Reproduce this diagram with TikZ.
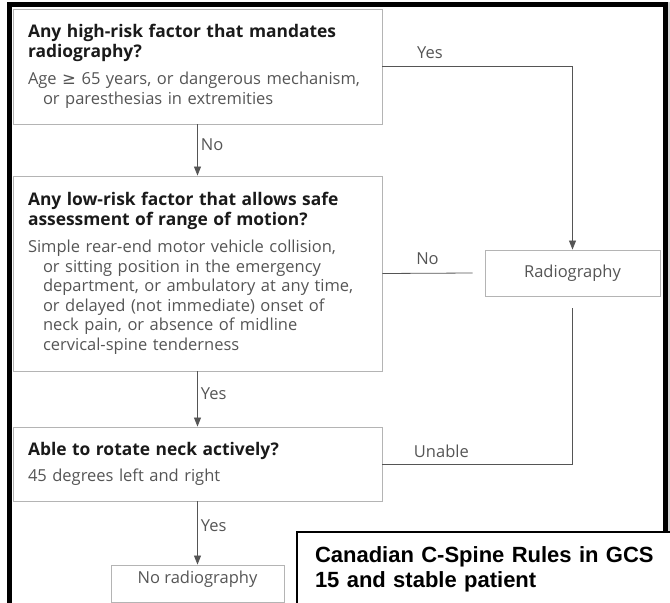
\documentclass[tikz,border=0pt]{standalone}
\usepackage{fontspec}
\setmainfont{Open Sans}
\newfontfamily\symfont{DejaVu Sans}
\newfontfamily\capfont{Liberation Sans}
\usepackage{xcolor}
\usetikzlibrary{arrows.meta,positioning,calc}

\definecolor{boxgray}{HTML}{B4B4B4}
\definecolor{linegray}{HTML}{555555}
\definecolor{txtgray}{HTML}{555555}
\definecolor{headgray}{HTML}{1A1A1A}

\newcommand{\ind}{\hspace*{15pt}}
\newcommand{\qhead}{\color{headgray}\bfseries\fontsize{17.4}{20}\selectfont}

\begin{document}
\begin{tikzpicture}[x=1pt, y=-1pt,
	every node/.style={font=\fontsize{16.5}{19.5}\selectfont, text=txtgray},
	qbox/.style={rectangle, draw=boxgray, line width=0.9pt, minimum width=369pt, text width=339pt, inner xsep=15pt, align=left},
	rbox/.style={rectangle, draw=boxgray, line width=0.9pt, align=center},
	lbl/.style={inner sep=3pt},
	ln/.style={draw=linegray, line width=0.8pt},
	arr/.style={ln, -{Triangle[width=7pt,length=9pt]}}]
				\useasboundingbox (0,0) rectangle (670,603);
				\clip (0,0) rectangle (670,603);
				
				% outer frame
				\fill[gray!35] (667.5,2) rectangle (670,603);
				\draw[line width=5pt] (9.5,620) -- (9.5,4.5) -- (665,4.5) -- (665,620);
				
				\node[qbox, minimum height=115pt] (q1) at (197.5,66.5) {{\qhead Any high-risk factor that mandates\\radiography?}\\[8pt]
					Age {\symfont ≥} 65 years, or dangerous mechanism,\\
					\ind or paresthesias in extremities};
				\node[qbox, minimum height=195pt] (q2) at (197.5,273.5) {{\qhead Any low-risk factor that allows safe\\assessment of range of motion?}\\[8pt]
					Simple rear-end motor vehicle collision,\\
					\ind or sitting position in the emergency\\
					\ind department, or ambulatory at any time,\\
					\ind or delayed (not immediate) onset of\\
					\ind neck pain, or absence of midline\\
					\ind cervical-spine tenderness};
				\node[qbox, minimum height=74pt] (q3) at (197.5,464) {{\qhead Able to rotate neck actively?}\\[6pt]
					45 degrees left and right};
				\node[rbox, minimum width=175pt, minimum height=46pt] (radio) at (572.5,273) {Radiography};
				\node[rbox, minimum width=173pt, anchor=base, text height=14pt, text depth=15pt, inner ysep=4pt] (nrad) at (197.5,583) {No radiography};
				
				\coordinate (noend) at ($(radio.west)+(-12,0)$);
				\coordinate (unstart) at ($(radio.south)+(0,12)$);
				
				\draw[arr] (q1) -- node[lbl, right, pos=0.4] (lno1) {No} (q2);
				\draw[arr] (q1.east) -| node[lbl, above, pos=0.125, yshift=4pt] (lyes1) {Yes} (radio.north);
				\draw[ln] (q2.east) -- node[lbl, above, yshift=5pt] (lno2) {No} (noend);
				\draw[arr] (q2) -- node[lbl, right, pos=0.4] (lyes2) {Yes} (q3);
				\draw[ln] (unstart) |- node[lbl, above, pos=0.845, yshift=3pt] (lunable) {Unable} (q3.east);
				\draw[arr] (q3) -- node[lbl, right, pos=0.38] (lyes3) {Yes} (nrad);
				
				% caption box laid over the corner
				\node[draw=black, line width=2pt, fill=white, anchor=north west, text width=400pt, align=left,
					inner xsep=18pt, inner ysep=15pt, text depth=40pt, text=black,
					font=\capfont\bfseries\fontsize{22}{25}\selectfont] (title) at (296,531) {Canadian C-Spine Rules in GCS\\15 and stable patient};
			\end{tikzpicture}
\end{document}
